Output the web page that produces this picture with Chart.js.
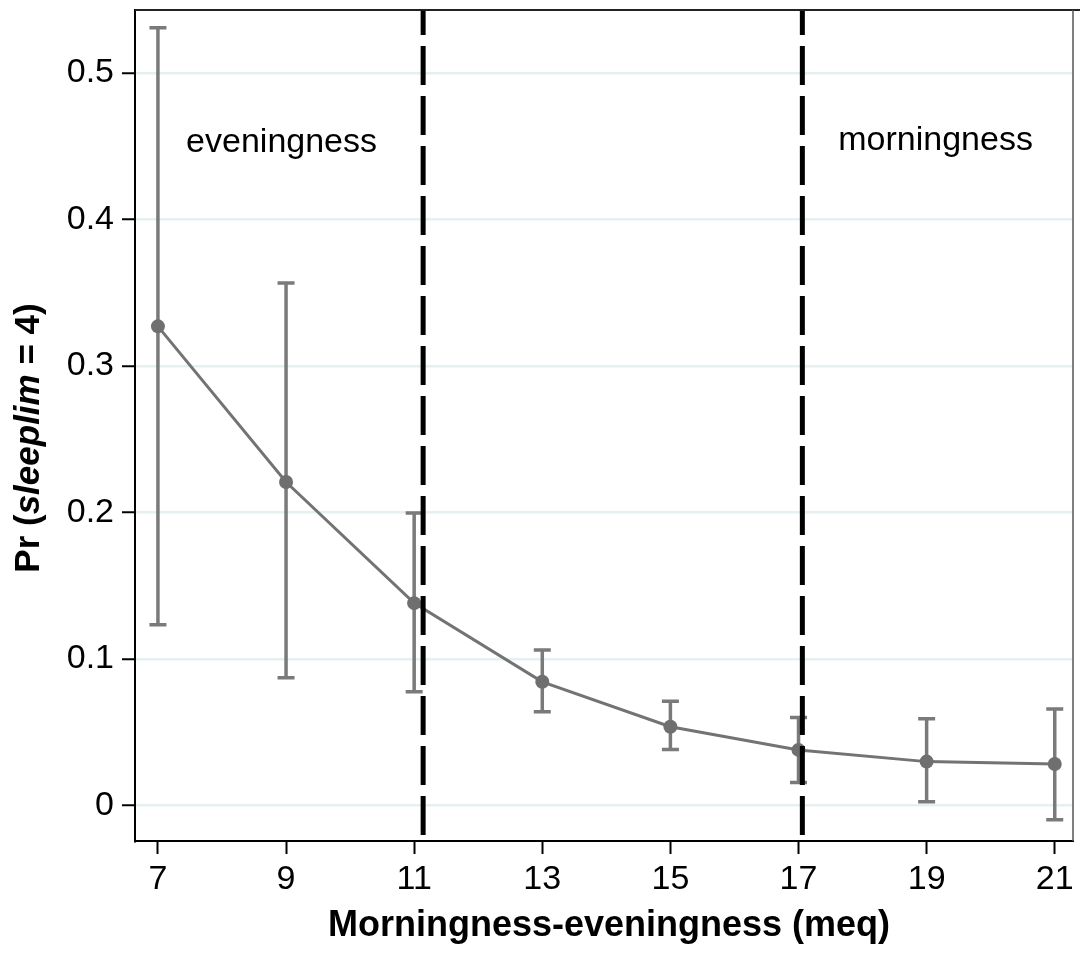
<!DOCTYPE html>
<html>
<head>
<meta charset="utf-8">
<script src="https://cdn.jsdelivr.net/npm/chart.js@4/dist/chart.umd.min.js"></script>
<style>
  html, body { margin: 0; padding: 0; background: #fff; }
  #wrap { width: 1080px; height: 961px; position: relative; }
</style>
</head>
<body>
<div id="wrap"><canvas id="probChart"></canvas></div>
<script>
// Predicted probabilities with 95% CIs across meq scores
const meqScores = [7, 9, 11, 13, 15, 17, 19, 21];
const predicted = [0.327, 0.2207, 0.138, 0.0843, 0.0536, 0.0378, 0.0298, 0.0282];
const ciLower   = [0.1233, 0.0871, 0.0775, 0.0638, 0.0381, 0.0156, 0.0024, -0.0099];
const ciUpper   = [0.5308, 0.3566, 0.1995, 0.106, 0.0711, 0.060, 0.059, 0.0658];

const xTicks = [7, 9, 11, 13, 15, 17, 19, 21];
const yTicks = [0, 0.1, 0.2, 0.3, 0.4, 0.5];

// chronotype cut points and region labels
const cutPoints = [11.14, 17.06];
const regionLabels = ['eveningness', 'morningness'];
const regionLabelX = [8.93, 19.14];
const regionLabelY = [0.4525, 0.454];

const FONT = '"Liberation Sans", Arial, Helvetica, sans-serif';
const markColor = '#6f6f6f';

const overlayPlugin = {
    id: 'overlay',
    beforeDatasetsDraw(chart) {
        const { ctx, scales: { x, y } } = chart;
        ctx.save();
        ctx.strokeStyle = '#7a7a7a';
        ctx.lineWidth = 3.5;
        meqScores.forEach((m, i) => {
            const px = x.getPixelForValue(m);
            const top = y.getPixelForValue(ciUpper[i]);
            const bot = y.getPixelForValue(ciLower[i]);
            ctx.beginPath();
            ctx.moveTo(px, top); ctx.lineTo(px, bot);
            ctx.moveTo(px - 8.5, top); ctx.lineTo(px + 8.5, top);
            ctx.moveTo(px - 8.5, bot); ctx.lineTo(px + 8.5, bot);
            ctx.stroke();
        });
        ctx.restore();
    },
    afterDatasetsDraw(chart) {
        const { ctx, chartArea: area, scales: { x, y } } = chart;
        ctx.save();

        // dashed cut-point lines
        ctx.strokeStyle = '#000';
        ctx.lineWidth = 5;
        ctx.setLineDash([39, 11]);
        ctx.lineDashOffset = 14;
        cutPoints.forEach(c => {
            const px = x.getPixelForValue(c);
            ctx.beginPath();
            ctx.moveTo(px, area.top);
            ctx.lineTo(px, area.bottom);
            ctx.stroke();
        });
        ctx.setLineDash([]);

        // top and right frame
        ctx.lineWidth = 2;
        ctx.strokeStyle = '#222';
        ctx.beginPath();
        ctx.moveTo(area.left, area.top);
        ctx.lineTo(chart.width, area.top);
        ctx.stroke();
        ctx.strokeStyle = '#555';
        ctx.lineWidth = 1.5;
        ctx.beginPath();
        ctx.moveTo(area.right, area.top);
        ctx.lineTo(area.right, area.bottom);
        ctx.stroke();

        // region labels
        ctx.fillStyle = '#000';
        ctx.font = '34px ' + FONT;
        ctx.textAlign = 'center';
        ctx.textBaseline = 'middle';
        regionLabels.forEach((t, i) => {
            ctx.fillText(t, x.getPixelForValue(regionLabelX[i]), y.getPixelForValue(regionLabelY[i]));
        });

        // x axis title
        ctx.font = 'bold 36px ' + FONT;
        ctx.fillText('Morningness-eveningness (meq)', 609, 926);

        // y axis title, "sleeplim" in italics
        ctx.translate(29, 438);
        ctx.rotate(-Math.PI / 2);
        const parts = [
            ['Pr (', 'bold 35px ' + FONT],
            ['sleeplim', 'italic bold 35px ' + FONT],
            [' = 4)', 'bold 35px ' + FONT]
        ];
        let total = 0;
        parts.forEach(p => { ctx.font = p[1]; total += ctx.measureText(p[0]).width; });
        let cx = -total / 2;
        ctx.textAlign = 'left';
        parts.forEach(p => {
            ctx.font = p[1];
            ctx.fillText(p[0], cx, 0);
            cx += ctx.measureText(p[0]).width;
        });
        ctx.restore();
    }
};

new Chart(document.getElementById('probChart'), {
    type: 'line',
    data: {
        datasets: [{
            data: meqScores.map((m, i) => ({ x: m, y: predicted[i] })),
            borderColor: '#737373',
            borderWidth: 3,
            backgroundColor: markColor,
            pointBackgroundColor: markColor,
            pointBorderColor: markColor,
            pointRadius: 7,
            pointBorderWidth: 0,
            tension: 0
        }]
    },
    options: {
        responsive: true,
        maintainAspectRatio: false,
        animation: false,
        layout: { padding: { top: 10, right: 5, left: 0, bottom: 0 } },
        plugins: { legend: { display: false }, tooltip: { enabled: false } },
        scales: {
            x: {
                type: 'linear',
                min: 6.642,
                max: 21.285,
                afterBuildTicks: s => { s.ticks = xTicks.map(v => ({ value: v })); },
                afterFit: s => { s.height = 120; s.paddingLeft = 0; s.paddingRight = 0; },
                border: { color: '#000', width: 2 },
                grid: { drawOnChartArea: false, tickLength: 13, tickColor: '#000', tickWidth: 2 },
                ticks: { color: '#000', font: { family: FONT, size: 34 }, padding: 5, maxRotation: 0 }
            },
            y: {
                min: -0.0244,
                max: 0.543,
                afterBuildTicks: s => { s.ticks = yTicks.map(v => ({ value: v })); },
                afterFit: s => { s.width = 135; s.paddingTop = 0; s.paddingBottom = 0; },
                border: { color: '#000', width: 2 },
                grid: { color: '#e6eff1', lineWidth: 2.5, tickLength: 13, tickColor: '#000', tickWidth: 2 },
                ticks: { color: '#000', font: { family: FONT, size: 34 }, padding: 8,
                         callback: v => v === 0 ? '0' : v.toFixed(1) }
            }
        }
    },
    plugins: [overlayPlugin]
});
</script>
</body>
</html>
